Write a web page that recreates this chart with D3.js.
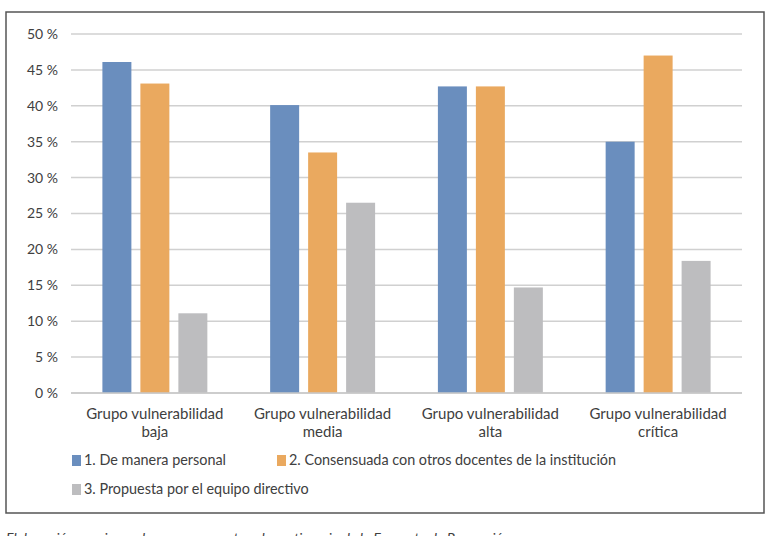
<!DOCTYPE html>
<html>
<head>
<meta charset="utf-8">
<script src="https://cdn.jsdelivr.net/npm/d3@7"></script>
<style>
  body { margin: 0; background: #fff; }
  text { font-family: Lato, "Open Sans", sans-serif; fill: #404040; }
</style>
</head>
<body>
<div class="chart"></div>
<script>
// Data
const categories = [
    ["Grupo vulnerabilidad", "baja"],
    ["Grupo vulnerabilidad", "media"],
    ["Grupo vulnerabilidad", "alta"],
    ["Grupo vulnerabilidad", "crítica"]
];
const seriesNames = [
    "1. De manera personal",
    "2. Consensuada con otros docentes de la institución",
    "3. Propuesta por el equipo directivo"
];
const personal = [46.1, 40.1, 42.7, 35.0];
const consensuada = [43.1, 33.5, 42.7, 47.0];
const directivo = [11.1, 26.5, 14.7, 18.4];
const yTicks = [0, 5, 10, 15, 20, 25, 30, 35, 40, 45, 50];
const colors = ["#6a8ebe", "#eaa95f", "#bdbdbf"];

const values = [personal, consensuada, directivo];

const width = 780, height = 536;
const svg = d3.select(".chart").append("svg")
    .attr("width", width)
    .attr("height", height);

// frame around the chart
svg.append("rect")
    .attr("x", 6).attr("y", 12)
    .attr("width", 758).attr("height", 501)
    .attr("fill", "none")
    .attr("stroke", "#555")
    .attr("stroke-width", 1.5);

const plot = { left: 71, right: 742, top: 34, bottom: 393 };

const x0 = d3.scaleBand()
    .domain(d3.range(categories.length))
    .range([plot.left, plot.right])
    .padding(0);

const groupPad = 31.4;
const x1 = d3.scaleBand()
    .domain(d3.range(seriesNames.length))
    .range([groupPad, x0.bandwidth() - groupPad])
    .paddingInner(9 / 38)
    .paddingOuter(0);

const y = d3.scaleLinear()
    .domain([0, 50])
    .range([plot.bottom, plot.top]);

// gridlines
svg.append("g")
    .selectAll("line")
    .data(yTicks)
    .enter()
    .append("line")
    .attr("x1", plot.left).attr("x2", plot.right)
    .attr("y1", d => y(d)).attr("y2", d => y(d))
    .attr("stroke", "#d0d0d0")
    .attr("stroke-width", 1.5);

// y axis labels
const yAxis = d3.axisLeft(y)
    .tickValues(yTicks)
    .tickSize(0)
    .tickPadding(13)
    .tickFormat(d => d + " %");
svg.append("g")
    .attr("transform", `translate(${plot.left}, 0)`)
    .call(yAxis)
    .call(g => g.select(".domain").remove())
    .call(g => g.selectAll("text")
        .style("font-family", "Lato, sans-serif")
        .style("font-size", "14px")
        .attr("fill", "#404040"));

// bars
const groups = svg.append("g")
    .selectAll("g")
    .data(categories.map((c, i) => i))
    .enter()
    .append("g")
    .attr("transform", i => `translate(${x0(i)}, 0)`);

groups.selectAll("rect")
    .data(i => values.map((s, k) => ({ k: k, v: s[i] })))
    .enter()
    .append("rect")
    .attr("x", d => x1(d.k))
    .attr("y", d => y(d.v))
    .attr("width", x1.bandwidth())
    .attr("height", d => y(0) - y(d.v))
    .attr("fill", d => colors[d.k]);

// baseline
svg.append("line")
    .attr("x1", plot.left).attr("x2", plot.right)
    .attr("y1", y(0)).attr("y2", y(0))
    .attr("stroke", "#c8c8c8")
    .attr("stroke-width", 1.5);

// category labels
const catLabels = svg.append("g")
    .selectAll("text")
    .data(categories)
    .enter()
    .append("text")
    .attr("x", (d, i) => x0(i) + x0.bandwidth() / 2)
    .attr("y", 419)
    .attr("text-anchor", "middle")
    .style("font-size", "15px");
catLabels.selectAll("tspan")
    .data(d => d)
    .enter()
    .append("tspan")
    .attr("x", function() { return d3.select(this.parentNode).attr("x"); })
    .attr("dy", (d, i) => i === 0 ? 0 : 18)
    .text(d => d);

// legend
const legendPos = [
    { x: 72, y: 465 },
    { x: 277, y: 465 },
    { x: 72, y: 494 }
];
const legend = svg.append("g")
    .selectAll("g")
    .data(seriesNames)
    .enter()
    .append("g")
    .attr("transform", (d, i) => `translate(${legendPos[i].x}, ${legendPos[i].y})`);
legend.append("rect")
    .attr("x", 0).attr("y", -10)
    .attr("width", 9).attr("height", 11)
    .attr("fill", (d, i) => colors[i]);
legend.append("text")
    .attr("x", 12).attr("y", 0)
    .style("font-size", "14.4px")
    .text(d => d);

// caption, cut off at the bottom of the page as in the source
svg.append("text")
    .attr("x", 6).attr("y", 543)
    .style("font-size", "14px")
    .style("font-style", "italic")
    .attr("fill", "#555")
    .text("Elaboración propia con base en respuestas al cuestionario de la Encuesta de Percepción");
</script>
</body>
</html>
